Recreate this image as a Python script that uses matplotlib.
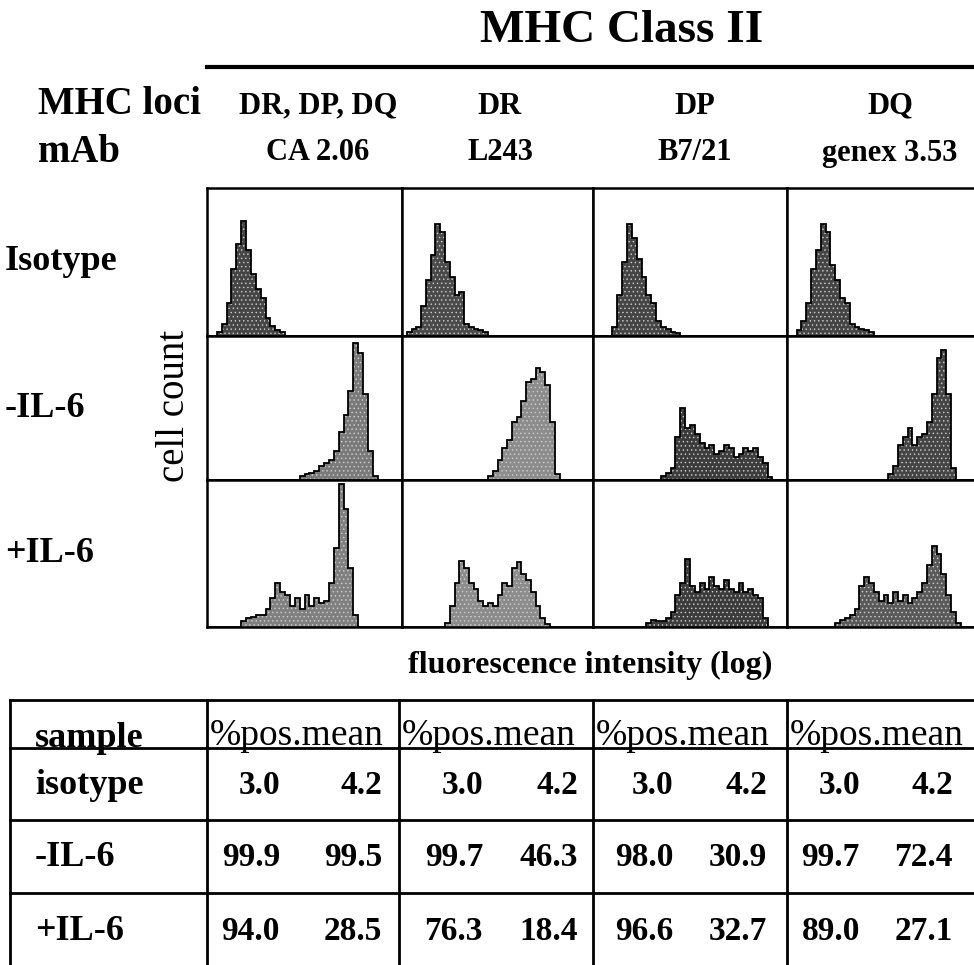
import numpy as np
import matplotlib.pyplot as plt
from matplotlib.lines import Line2D

plt.rcParams['font.family'] = ['Liberation Serif', 'DejaVu Serif']
plt.rcParams['hatch.linewidth'] = 0.5

W, H = 974, 965

loci = ['DR, DP, DQ', 'DR', 'DP', 'DQ']
antibodies = ['CA 2.06', 'L243', 'B7/21', 'genex 3.53']
conditions = ['Isotype', '-IL-6', '+IL-6']
table_rows = ['isotype', '-IL-6', '+IL-6']

# % positive cells and mean fluorescence, one row per sample, one column per mAb
pct_pos = [[3.0, 3.0, 3.0, 3.0],
           [99.9, 99.7, 98.0, 99.7],
           [94.0, 76.3, 96.6, 89.0]]
mean_fl = [[4.2, 4.2, 4.2, 4.2],
           [99.5, 46.3, 30.9, 72.4],
           [28.5, 18.4, 32.7, 27.1]]

# histogram counts on 40 log channels, listed from the first occupied channel
n_bins = 40
iso_ca = [3, 8, 22, 45, 62, 78, 58, 42, 32, 26, 12, 7, 4, 3]
iso_dr = [3, 5, 6, 20, 38, 55, 76, 70, 50, 40, 28, 30, 8, 6, 5, 4, 3]
iso_dp = [6, 28, 50, 76, 66, 52, 40, 28, 22, 10, 6, 5, 3, 2]
iso_dq = [4, 10, 22, 45, 58, 76, 70, 48, 38, 26, 22, 8, 6, 5, 4, 3]
minus_ca = [3, 4, 5, 6, 10, 12, 14, 20, 33, 45, 62, 95, 88, 60, 20, 3]
minus_dr = [3, 6, 14, 22, 28, 40, 44, 55, 68, 70, 78, 75, 66, 40, 4]
minus_dp = [3, 5, 8, 30, 50, 36, 38, 32, 26, 22, 24, 18, 20, 24, 22, 16, 18,
            22, 20, 22, 16, 12, 2]
minus_dq = [4, 10, 24, 30, 36, 24, 30, 32, 40, 60, 85, 90, 60, 8]
plus_ca = [4, 6, 7, 8, 8, 12, 20, 30, 24, 22, 14, 20, 12, 22, 14, 20, 16, 18,
           30, 54, 97, 80, 40, 8]
plus_dr = [3, 14, 30, 45, 40, 30, 26, 18, 14, 16, 14, 22, 30, 28, 40, 44, 36,
           32, 24, 14, 6, 2]
plus_dp = [3, 5, 4, 4, 6, 10, 22, 30, 46, 28, 24, 30, 26, 34, 28, 26, 32, 26,
           24, 30, 24, 26, 22, 20, 6]
plus_dq = [3, 5, 6, 8, 12, 28, 34, 30, 24, 18, 22, 16, 24, 18, 22, 16, 20, 24,
           30, 42, 55, 50, 36, 22, 10, 3]

hists = [[iso_ca, iso_dr, iso_dp, iso_dq],
         [minus_ca, minus_dr, minus_dp, minus_dq],
         [plus_ca, plus_dr, plus_dp, plus_dq]]
first_bin = [[2, 1, 4, 2],
             [19, 18, 14, 21],
             [7, 9, 11, 10]]
fill_colors = [['#454545', '#4a4a4a', '#454545', '#454545'],
               ['#7a7a7a', '#8c8c8c', '#3c3c3c', '#454545'],
               ['#808080', '#8c8c8c', '#3c3c3c', '#5a5a5a']]


def fx(x):
    return x / W


def fy(y):
    return 1 - y / H


def hline(fig, y, x0, x1, lw=2.0):
    fig.add_artist(Line2D([fx(x0), fx(x1)], [fy(y), fy(y)], color='black',
                          lw=lw, transform=fig.transFigure))


def vline(fig, x, y0, y1, lw=2.0):
    fig.add_artist(Line2D([fx(x), fx(x)], [fy(y0), fy(y1)], color='black',
                          lw=lw, transform=fig.transFigure))


fig = plt.figure(figsize=(W / 100, H / 100), dpi=100)

# header
fig.text(fx(622), fy(31), 'MHC Class II', ha='center', va='center',
         fontsize=34, fontweight='bold')
hline(fig, 67, 207, 974, lw=3)
fig.text(fx(38), fy(104), 'MHC loci', ha='left', va='center', fontsize=28,
         fontweight='bold')
fig.text(fx(38), fy(152), 'mAb', ha='left', va='center', fontsize=28,
         fontweight='bold')

col_x = [207, 402, 593, 787, 980]
row_y = [188, 336, 480, 627]
head_x = [318, 500, 695, 890]
for j in range(4):
    fig.text(fx(head_x[j]), fy(106), loci[j], ha='center', va='center',
             fontsize=22, fontweight='bold')
    fig.text(fx(head_x[j]), fy(153), antibodies[j], ha='center', va='center',
             fontsize=22, fontweight='bold')

# histogram grid
edges = np.linspace(0, 1, n_bins + 1)
for i in range(3):
    fig.text(fx(5), fy((row_y[i] + row_y[i + 1]) / 2), conditions[i],
             ha='left', va='center', fontsize=26, fontweight='bold')
    for j in range(4):
        ax = fig.add_axes([fx(col_x[j]), fy(row_y[i + 1]),
                           (col_x[j + 1] - col_x[j]) / W,
                           (row_y[i + 1] - row_y[i]) / H])
        counts = np.zeros(n_bins)
        s = first_bin[i][j]
        counts[s:s + len(hists[i][j])] = hists[i][j]
        ax.stairs(counts, edges, fill=True, facecolor=fill_colors[i][j],
                  edgecolor='#d0d0d0', hatch='....', linewidth=0)
        ax.stairs(counts, edges, color='black', linewidth=1.3)
        ax.set_xlim(0, 1)
        ax.set_ylim(0, 100)
        ax.set_xticks([])
        ax.set_yticks([])
        for sp in ax.spines.values():
            sp.set_linewidth(1.8)

fig.text(fx(175), fy(406), 'cell count', rotation=90, ha='center',
         va='center', fontsize=28)
fig.text(fx(590), fy(665), 'fluorescence intensity (log)', ha='center',
         va='center', fontsize=23, fontweight='bold')

# summary table
tab_cols = [10, 207, 399, 593, 787]
tab_rows = [700, 748, 820, 893]
for y in tab_rows:
    hline(fig, y, 10, 974)
for x in tab_cols:
    vline(fig, x, 700, 965)

fig.text(fx(35), fy(747), 'sample', ha='left', va='baseline', fontsize=26,
         fontweight='bold')
row_mid = [785, 857, 931]
val1_right = [280, 483, 673, 860]
val2_right = [382, 578, 767, 953]
for j in range(4):
    fig.text(fx(tab_cols[j + 1] + 3), fy(745), '%pos.mean', ha='left',
             va='baseline', fontsize=27)
for i in range(3):
    fig.text(fx(35), fy(row_mid[i]), table_rows[i], ha='left', va='center',
             fontsize=26, fontweight='bold')
    for j in range(4):
        fig.text(fx(val1_right[j]), fy(row_mid[i]), f'{pct_pos[i][j]:.1f}',
                 ha='right', va='center', fontsize=24, fontweight='bold')
        fig.text(fx(val2_right[j]), fy(row_mid[i]), f'{mean_fl[i][j]:.1f}',
                 ha='right', va='center', fontsize=24, fontweight='bold')

fig.savefig('out.png', dpi=100)
